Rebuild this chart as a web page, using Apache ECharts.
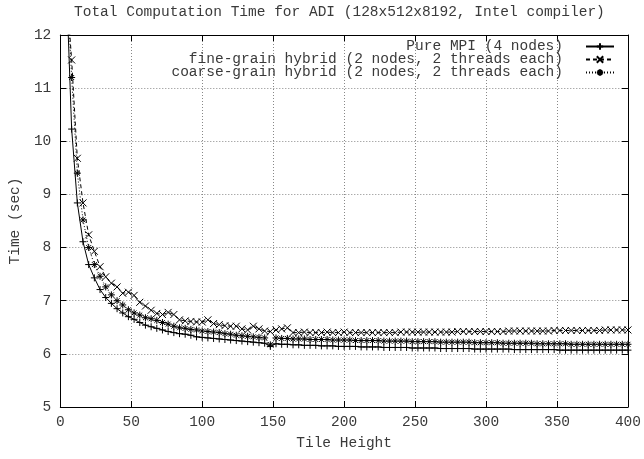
<!DOCTYPE html>
<html>
<head>
<meta charset="utf-8">
<script src="https://cdn.jsdelivr.net/npm/echarts@6/dist/echarts.min.js"></script>
<style>
  html, body { margin: 0; padding: 0; background: #fff; }
  #chart { width: 644px; height: 459px; }
</style>
</head>
<body>
<div id="chart"></div>
<script>
const tileHeight = [
  4, 8, 12, 16, 20, 24, 28, 32, 36, 40,
  44, 48, 52, 56, 60, 64, 68, 72, 76, 80,
  84, 88, 92, 96, 100, 104, 108, 112, 116, 120,
  124, 128, 132, 136, 140, 144, 148, 152, 156, 160,
  164, 168, 172, 176, 180, 184, 188, 192, 196, 200,
  204, 208, 212, 216, 220, 224, 228, 232, 236, 240,
  244, 248, 252, 256, 260, 264, 268, 272, 276, 280,
  284, 288, 292, 296, 300, 304, 308, 312, 316, 320,
  324, 328, 332, 336, 340, 344, 348, 352, 356, 360,
  364, 368, 372, 376, 380, 384, 388, 392, 396, 400
];

const pureMPI = [
  13.2, 10.23, 8.84, 8.11, 7.68, 7.43, 7.21, 7.06, 6.95, 6.85,
  6.77, 6.70, 6.65, 6.59, 6.54, 6.51, 6.48, 6.45, 6.42, 6.40,
  6.38, 6.37, 6.35, 6.32, 6.31, 6.30, 6.29, 6.28, 6.27, 6.26,
  6.25, 6.24, 6.23, 6.22, 6.21, 6.20, 6.14, 6.19, 6.18, 6.18,
  6.17, 6.17, 6.16, 6.16, 6.16, 6.15, 6.15, 6.15, 6.14, 6.14,
  6.14, 6.14, 6.13, 6.13, 6.13, 6.13, 6.12, 6.12, 6.12, 6.12,
  6.12, 6.11, 6.11, 6.11, 6.11, 6.11, 6.10, 6.10, 6.10, 6.10,
  6.10, 6.10, 6.09, 6.09, 6.09, 6.09, 6.09, 6.09, 6.09, 6.08,
  6.08, 6.08, 6.08, 6.08, 6.08, 6.08, 6.08, 6.07, 6.07, 6.07,
  6.07, 6.07, 6.07, 6.07, 6.07, 6.07, 6.07, 6.07, 6.07, 6.07
];

const fineHybrid = [
  13.0, 11.53, 9.68, 8.84, 8.24, 7.93, 7.64, 7.45, 7.33, 7.26,
  7.14, 7.16, 7.10, 6.97, 6.90, 6.82, 6.76, 6.74, 6.78, 6.74,
  6.64, 6.62, 6.61, 6.60, 6.60, 6.64, 6.57, 6.55, 6.53, 6.52,
  6.52, 6.47, 6.45, 6.52, 6.47, 6.43, 6.42, 6.45, 6.47, 6.49,
  6.40, 6.40, 6.41, 6.40, 6.40, 6.40, 6.41, 6.40, 6.40, 6.41,
  6.40, 6.40, 6.40, 6.40, 6.40, 6.40, 6.40, 6.40, 6.40, 6.41,
  6.41, 6.41, 6.41, 6.41, 6.41, 6.41, 6.41, 6.41, 6.41, 6.42,
  6.42, 6.42, 6.42, 6.42, 6.42, 6.42, 6.42, 6.42, 6.43, 6.43,
  6.43, 6.43, 6.43, 6.43, 6.43, 6.43, 6.44, 6.44, 6.44, 6.44,
  6.44, 6.44, 6.44, 6.44, 6.44, 6.45, 6.45, 6.45, 6.45, 6.45
];

const coarseHybrid = [
  13.3, 11.2, 9.4, 8.52, 8.0, 7.68, 7.46, 7.26, 7.11, 7.00,
  6.92, 6.83, 6.77, 6.73, 6.68, 6.66, 6.63, 6.59, 6.56, 6.52,
  6.49, 6.48, 6.46, 6.45, 6.43, 6.42, 6.41, 6.40, 6.38, 6.37,
  6.35, 6.34, 6.33, 6.32, 6.31, 6.30, 6.17, 6.30, 6.29, 6.29,
  6.28, 6.28, 6.28, 6.27, 6.27, 6.27, 6.27, 6.26, 6.26, 6.26,
  6.26, 6.25, 6.25, 6.25, 6.25, 6.25, 6.24, 6.24, 6.24, 6.24,
  6.24, 6.23, 6.23, 6.23, 6.23, 6.23, 6.22, 6.22, 6.22, 6.22,
  6.22, 6.22, 6.21, 6.21, 6.21, 6.21, 6.21, 6.20, 6.20, 6.20,
  6.20, 6.20, 6.20, 6.19, 6.19, 6.19, 6.19, 6.19, 6.19, 6.18,
  6.18, 6.18, 6.18, 6.18, 6.18, 6.18, 6.18, 6.18, 6.18, 6.18
];

const seriesNames = [
  "Pure MPI (4 nodes)",
  "fine-grain hybrid (2 nodes, 2 threads each)",
  "coarse-grain hybrid (2 nodes, 2 threads each)"
];

const FONT = "Liberation Mono";
const FSIZE = 14.5;
const TEXT = "#3a3a3a";

// gnuplot style point markers (stroked)
const plusMark = "path://M0,5L10,5M5,0L5,10";
const crossMark = "path://M0,0L10,10M0,10L10,0";
const starMark = "path://M0,5L10,5M5,0L5,10M1.5,1.5L8.5,8.5M1.5,8.5L8.5,1.5";

function pairs(ys) {
  return tileHeight.map((x, i) => [x, ys[i]]);
}

function makeSeries(name, ys, symbol, lineType) {
  return {
    name,
    type: "line",
    data: pairs(ys),
    symbol,
    symbolSize: 7,
    showSymbol: true,
    clip: true,
    itemStyle: { color: "#000", borderColor: "#000", borderWidth: 1 },
    lineStyle: { color: "#000", width: 1, type: lineType },
    emphasis: { disabled: true },
  };
}

function makeLegend(name, top) {
  return {
    data: [name],
    right: 29,
    top,
    align: "right",
    itemWidth: 28,
    itemHeight: 8,
    padding: 0,
    textStyle: { fontFamily: FONT, fontSize: FSIZE, color: TEXT, padding: [0, 18, 0, 0] },
  };
}

const chart = echarts.init(document.getElementById("chart"), null, { renderer: "canvas" });

const tickOpts = { show: true, inside: true, length: 6, lineStyle: { color: "#000" } };
const gridLine = { show: true, lineStyle: { color: "#888", type: [1, 2], width: 1 } };
const frameLine = { show: true, onZero: false, lineStyle: { color: "#000", width: 1 } };
const labelText = { fontFamily: FONT, fontSize: FSIZE, color: TEXT };

chart.setOption({
  animation: false,
  backgroundColor: "#fff",
  title: {
    text: "Total Computation Time for ADI (128x512x8192, Intel compiler)",
    left: 74,
    top: 5,
    padding: 0,
    textStyle: { fontFamily: FONT, fontSize: FSIZE, fontWeight: "normal", color: TEXT },
  },
  legend: [
    makeLegend(seriesNames[0], 39),
    makeLegend(seriesNames[1], 52),
    makeLegend(seriesNames[2], 65),
  ],
  grid: { left: 55, right: 13, top: 35, bottom: 52 },
  xAxis: [
    {
      type: "value",
      min: 0,
      max: 400,
      interval: 50,
      name: "Tile Height",
      nameLocation: "middle",
      nameGap: 29,
      nameTextStyle: labelText,
      axisLine: frameLine,
      axisTick: tickOpts,
      axisLabel: { ...labelText, margin: 8 },
      splitLine: gridLine,
    },
    {
      type: "value",
      position: "top",
      min: 0,
      max: 400,
      interval: 50,
      axisLine: frameLine,
      axisTick: tickOpts,
      axisLabel: { show: false },
      splitLine: { show: false },
    },
  ],
  yAxis: [
    {
      type: "value",
      min: 5,
      max: 12,
      interval: 1,
      name: "Time (sec)",
      nameLocation: "middle",
      nameGap: 36,
      nameTextStyle: labelText,
      axisLine: frameLine,
      axisTick: tickOpts,
      axisLabel: { ...labelText, margin: 9 },
      splitLine: gridLine,
    },
    {
      type: "value",
      position: "right",
      min: 5,
      max: 12,
      interval: 1,
      axisLine: frameLine,
      axisTick: tickOpts,
      axisLabel: { show: false },
      splitLine: { show: false },
    },
  ],
  series: [
    makeSeries(seriesNames[0], pureMPI, plusMark, "solid"),
    makeSeries(seriesNames[1], fineHybrid, crossMark, [4, 3]),
    makeSeries(seriesNames[2], coarseHybrid, starMark, [1, 2]),
  ],
});
</script>
</body>
</html>
